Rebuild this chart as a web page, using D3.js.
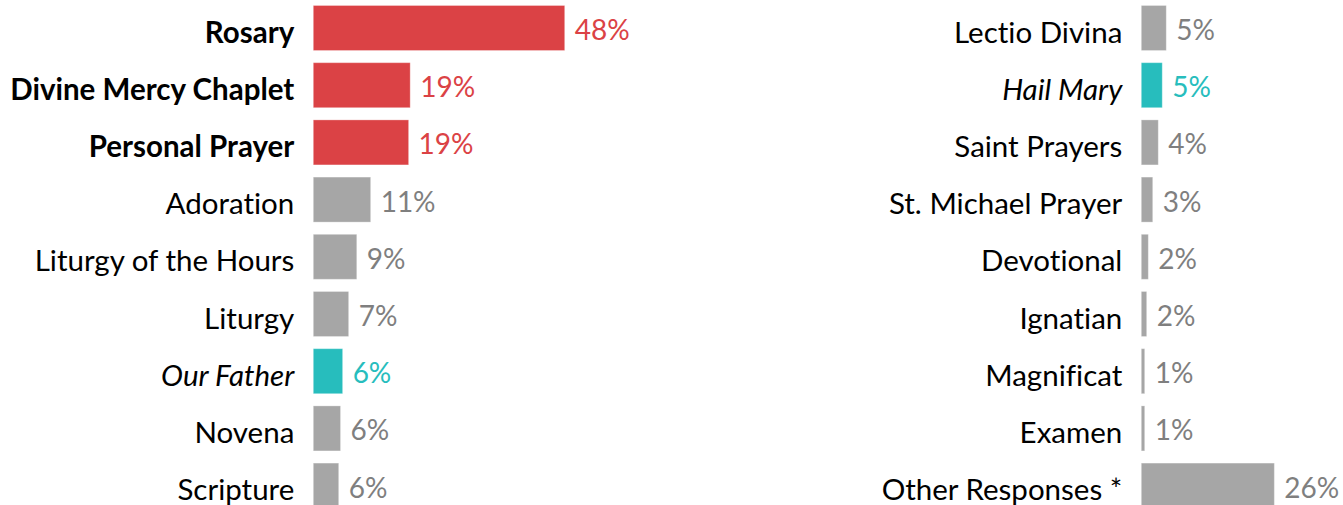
<!DOCTYPE html>
<html>
<head>
<meta charset="utf-8">
<script src="https://cdn.jsdelivr.net/npm/d3@7"></script>
<style>
  body { margin: 0; background: #fff; }
  text { font-family: Lato, "Open Sans", sans-serif; font-variant-ligatures: none; }
</style>
</head>
<body>
<div class="chart"></div>
<script>
var svgWidth = 1343;
var svgHeight = 505;

// left panel
var leftCategories = ["Rosary", "Divine Mercy Chaplet", "Personal Prayer", "Adoration",
  "Liturgy of the Hours", "Liturgy", "Our Father", "Novena", "Scripture"];
var leftValues = [48, 18.5, 18.2, 10.95, 8.3, 6.75, 5.6, 5.2, 4.85];
var leftLabels = ["48%", "19%", "19%", "11%", "9%", "7%", "6%", "6%", "6%"];
var leftGroups = ["top", "top", "top", "other", "other", "other", "prayer", "other", "other"];

// right panel
var rightCategories = ["Lectio Divina", "Hail Mary", "Saint Prayers", "St. Michael Prayer",
  "Devotional", "Ignatian", "Magnificat", "Examen", "Other Responses *"];
var rightValues = [4.77, 4.0, 3.24, 2.18, 1.34, 1.03, 0.65, 0.65, 25.4];
var rightLabels = ["5%", "5%", "4%", "3%", "2%", "2%", "1%", "1%", "26%"];
var rightGroups = ["other", "prayer", "other", "other", "other", "other", "other", "other", "other"];

var barColor = { top: "#db4245", other: "#a6a6a6", prayer: "#27bdbd" };
var valueColor = { top: "#db4245", other: "#7f7f7f", prayer: "#27bdbd" };
var weight = { top: "bold", other: "normal", prayer: "normal" };
var fstyle = { top: "normal", other: "normal", prayer: "italic" };

var svg = d3.select(".chart")
  .append("svg")
  .attr("width", svgWidth)
  .attr("height", svgHeight);

var xScale = d3.scaleLinear()
  .domain([0, 48])
  .range([0, 251.4]);

var yScale = d3.scaleBand()
  .domain(d3.range(9))
  .range([-0.6, 514.2])
  .paddingInner(0.213)
  .paddingOuter(0.1065);

function drawPanel(left, cats, vals, labels, groups) {
  var g = svg.append("g").attr("transform", `translate(${left}, 0)`);
  var rows = g.selectAll("g.row")
    .data(d3.range(cats.length))
    .enter()
    .append("g")
    .attr("class", "row");

  rows.append("rect")
    .attr("x", 0)
    .attr("y", i => yScale(i))
    .attr("width", i => xScale(vals[i]))
    .attr("height", yScale.bandwidth())
    .attr("fill", i => barColor[groups[i]])
    .attr("stroke", "#fff")
    .attr("stroke-opacity", 0.3);

  // category names
  rows.append("text")
    .attr("x", -19)
    .attr("y", i => yScale(i) + yScale.bandwidth() / 2 + 14.5)
    .attr("text-anchor", "end")
    .attr("font-size", "29.5px")
    .attr("font-weight", i => weight[groups[i]])
    .attr("font-style", i => fstyle[groups[i]])
    .attr("fill", "#000")
    .text(i => cats[i]);

  // value labels
  rows.append("text")
    .attr("x", i => xScale(vals[i]) + 10)
    .attr("y", i => yScale(i) + yScale.bandwidth() / 2 + 12)
    .attr("font-size", "28px")
    .attr("fill", i => valueColor[groups[i]])
    .text(i => labels[i]);
}

drawPanel(313.3, leftCategories, leftValues, leftLabels, leftGroups);
drawPanel(1141.3, rightCategories, rightValues, rightLabels, rightGroups);
</script>
</body>
</html>
